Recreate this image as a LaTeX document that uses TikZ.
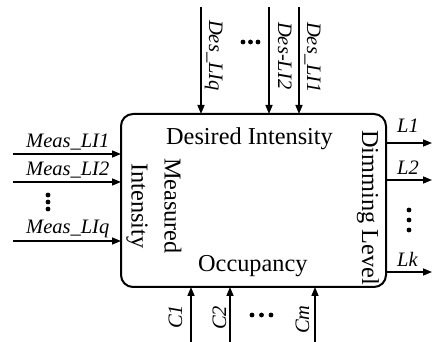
\documentclass[tikz,border=0pt]{standalone}
\usepackage{fontspec}
\setmainfont{Liberation Serif}
\usetikzlibrary{arrows.meta}
\begin{document}
\begin{tikzpicture}[x=1pt,y=-1pt,
  blockbox/.style={draw,line width=2pt,rounded corners=12pt,minimum width=265pt,minimum height=173pt,inner sep=0pt,outer sep=0pt},
  arr/.style={line width=1.5pt,-{Triangle[length=9pt,width=7pt]}},
  big/.style={font=\fontsize{24.3}{33}\selectfont,inner sep=0pt},
  sig/.style={font=\fontsize{20.5}{24}\selectfont\itshape,inner sep=0pt},
  dotmark/.style={circle,fill,inner sep=0pt,minimum size=4.8pt}]
\useasboundingbox (0,0) rectangle (432,342);
\node[blockbox] (box) at (253.5,200.5) {};
% inner labels
\node[big,anchor=base west] (desired) at (166,145) {Desired Intensity};
\node[big,anchor=base west] (occ) at (198,272) {Occupancy};
\node[big,anchor=base west,rotate=-90] (dim) at (362,130) {Dimming Level};
\node[big,align=center,rotate=-90] (meas) at (154,206) {Measured\\Intensity};
% top inputs
\coordinate (tq) at (201,7);
\coordinate (t2) at (269,7);
\coordinate (t1) at (299,7);
\draw[arr] (tq) -- (tq |- box.north);
\draw[arr] (t2) -- (t2 |- box.north);
\draw[arr] (t1) -- (t1 |- box.north);
\node[sig,anchor=base west,rotate=-90] (ldq) at (209,20) {Des\_LIq};
\node[sig,anchor=base west,rotate=-90] (ld2) at (278,22) {Des-LI2};
\node[sig,anchor=base west,rotate=-90] (ld1) at (307,22) {Des\_LI1};
\node[dotmark] (td1) at (243,42) {};
\node[dotmark] (td2) at (250.5,42) {};
\node[dotmark] (td3) at (258,42) {};
% left inputs
\coordinate (m1) at (13,154);
\coordinate (m2) at (13,182);
\coordinate (mq) at (13,241);
\draw[arr] (m1) -- (m1 -| box.west);
\draw[arr] (m2) -- (m2 -| box.west);
\draw[arr] (mq) -- (mq -| box.west);
\node[sig,anchor=base west] (lm1) at (26,148) {Meas\_LI1};
\node[sig,anchor=base west] (lm2) at (26,176) {Meas\_LI2};
\node[sig,anchor=base west] (lmq) at (26,234) {Meas\_LIq};
\node[dotmark] (ld1a) at (48,195) {};
\node[dotmark] (ld2a) at (48,202) {};
\node[dotmark] (ld3a) at (48,209) {};
% right outputs
\coordinate (o1) at (432,143);
\coordinate (o2) at (432,180);
\coordinate (ok) at (432,272);
\draw[arr] (o1 -| box.east) -- (o1);
\draw[arr] (o2 -| box.east) -- (o2);
\draw[arr] (ok -| box.east) -- (ok);
\node[sig,anchor=base west] (lo1) at (397,133) {L1};
\node[sig,anchor=base west] (lo2) at (397,175) {L2};
\node[sig,anchor=base west] (lok) at (397,267) {Lk};
\node[dotmark] (rd1) at (409,210) {};
\node[dotmark] (rd2) at (409,220) {};
\node[dotmark] (rd3) at (409,230) {};
% bottom inputs
\coordinate (c1) at (191,342);
\coordinate (c2) at (230,342);
\coordinate (cm) at (315,342);
\draw[arr] (c1) -- (c1 |- box.south);
\draw[arr] (c2) -- (c2 |- box.south);
\draw[arr] (cm) -- (cm |- box.south);
\node[sig,anchor=base west,rotate=90] (lc1) at (182,329) {C1};
\node[sig,anchor=base west,rotate=90] (lc2) at (226,330) {C2};
\node[sig,anchor=base west,rotate=90] (lcm) at (309,334) {Cm};
\node[dotmark] (bd1) at (252,315) {};
\node[dotmark] (bd2) at (261.5,315) {};
\node[dotmark] (bd3) at (271,315) {};
\end{tikzpicture}
\end{document}
